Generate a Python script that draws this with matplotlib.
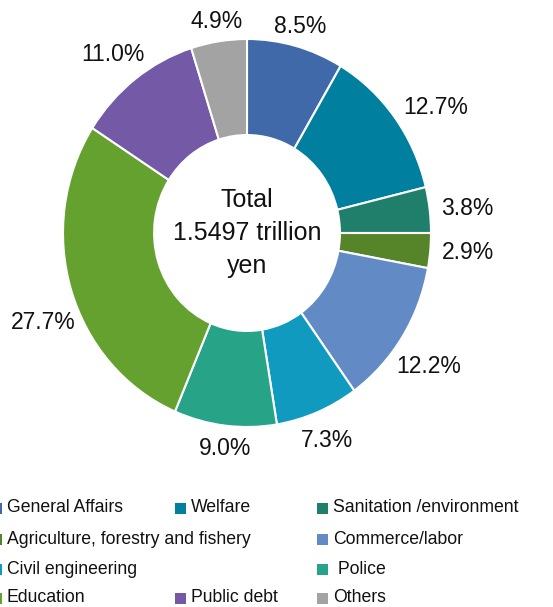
import numpy as np
import matplotlib.pyplot as plt
from matplotlib.patches import Rectangle

plt.rcParams['font.family'] = ['Liberation Sans', 'DejaVu Sans']

# expenditure breakdown, clockwise from 12 o'clock
categories = ['General Affairs', 'Welfare', 'Sanitation /environment',
              'Agriculture, forestry and fishery', 'Commerce/labor',
              'Civil engineering', ' Police', 'Education', 'Public debt', 'Others']
shares = [8.5, 12.7, 3.8, 2.9, 12.2, 7.3, 9.0, 27.7, 11.0, 4.9]
colors = ['#3F69A8', '#007F9E', '#1F7F6A', '#568429', '#628BC5',
          '#119AC0', '#27A387', '#65A12F', '#7459A6', '#A3A3A3']
total_text = 'Total\n1.5497 trillion\nyen'

# legend grid: (column, row) for each category
legend_slots = [(0, 0), (1, 0), (2, 0), (0, 1), (2, 1),
                (0, 2), (2, 2), (0, 3), (1, 3), (2, 3)]
# small pixel nudges (right, down) for the percentage labels
label_nudge = [(-5, 6), (12, 5), (2, 2), (2, -1), (-4, 16),
               (-4, 4), (4, -3), (7, 25), (0, -4), (3, 6)]

W, H = 553, 607
fig = plt.figure(figsize=(W / 100, H / 100), dpi=100)

# donut centre (247, 233) px, radius ~184 px wide and ~194 px tall
cx, cy, rx, ry = 247, 233, 184, 194
xl, yl = 1.3, 1.25
aw, ah = 2 * xl * rx, 2 * yl * ry
ax = fig.add_axes([(cx - aw / 2) / W, (H - cy - ah / 2) / H, aw / W, ah / H])

wedges, _ = ax.pie(
    shares, colors=colors, startangle=90, counterclock=False,
    wedgeprops=dict(width=0.495, edgecolor='white', linewidth=1.5))
ax.set_aspect('auto')
ax.set_xlim(-xl, xl)
ax.set_ylim(-yl, yl)
ax.axis('off')

# percentage labels sit about 220 px from the centre
label_r = 220
for w, v, (nx, ny) in zip(wedges, shares, label_nudge):
    ang = np.deg2rad((w.theta1 + w.theta2) / 2)
    px = label_r * np.cos(ang) + nx
    py = label_r * np.sin(ang) - ny
    ax.text(px / rx, py / ry, f'{v:.1f}%',
            ha='center', va='center', fontsize=16.5, color='#111111')

ax.text(0, 0.0, total_text, ha='center', va='center', fontsize=18,
        linespacing=1.48, color='#111111')

# hand-placed legend below the ring
col_x = [-9, 175, 317]
row_y = [508, 539, 569, 598]
box = 11
for name, color, (c, r) in zip(categories, colors, legend_slots):
    x0, yc = col_x[c], row_y[r]
    fig.patches.append(Rectangle((x0 / W, (H - yc - box / 2) / H), box / W, box / H,
                                 transform=fig.transFigure, facecolor=color,
                                 edgecolor='none'))
    fig.text((x0 + box + 5) / W, (H - yc) / H, name, ha='left', va='center',
             fontsize=12.7, color='#111111')

fig.savefig('out.png', dpi=100)
